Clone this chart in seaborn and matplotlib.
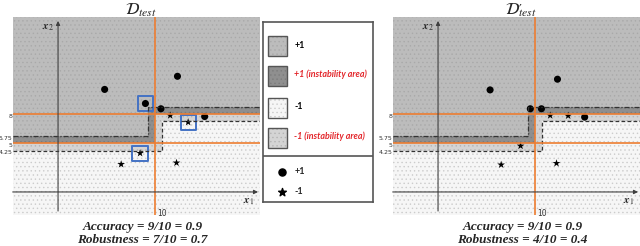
import matplotlib
matplotlib.use('Agg')
import pandas as pd
import matplotlib.pyplot as plt
import seaborn as sns
from matplotlib.patches import Rectangle

sns.set_style('white')
plt.rcParams['font.family'] = ['DejaVu Sans']
plt.rcParams['mathtext.fontset'] = 'stix'
plt.rcParams['hatch.linewidth'] = 0.5

# decision rule and robustness margin
split_x1 = 10
cut_left = 5
cut_right = 8
margin = 0.75
x2_ticks = [8, 5.75, 5, 4.25]
x2_tick_labels = ['8', '5.75', '5', '4.25']

# D_test points
test_x1 = [4.8, 12.3, 9.0, 10.6, 11.55, 13.4, 15.1, 8.45, 6.5, 12.2]
test_x2 = [10.55, 11.9, 9.1, 8.56, 7.87, 7.18, 7.76, 3.99, 2.85, 3.0]
test_label = ['+1', '+1', '+1', '+1', '-1', '-1', '+1', '-1', '-1', '-1']
test_boxed = [False, False, True, False, False, True, False, True, False, False]

# D'_test points (perturbed)
pert_x1 = [5.36, 12.3, 9.5, 10.65, 11.55, 13.4, 15.1, 8.5, 6.5, 12.2]
pert_x2 = [10.5, 11.6, 8.56, 8.56, 7.87, 7.84, 7.7, 4.74, 2.8, 2.95]
pert_label = ['+1', '+1', '+1', '+1', '-1', '-1', '+1', '-1', '-1', '-1']
pert_boxed = [False] * 10

titles = [r'$\mathcal{D}_{test}$', r'$\mathcal{D}_{test}$']
title_primes = ['', '\u2032']
accuracy = ['9/10 = 0.9', '9/10 = 0.9']
robustness = ['7/10 = 0.7', '4/10 = 0.4']

XLIM = (-4.67, 20.8)
YLIM = (-2.37, 18.0)
W, H = 640, 246
ORANGE = '#ED7D31'
C_POS, C_POS_I, C_NEG, C_NEG_I = '#bcbcbc', '#8f8f8f', '#f6f6f6', '#d4d4d4'


def px_axes(fig, x0, y0, x1, y1):
    return fig.add_axes([x0 / W, 1 - y1 / H, (x1 - x0) / W, (y1 - y0) / H])


def draw_panel(ax, df, boxed, title, prime, acc, rob):
    xmin, xmax = XLIM
    ymin, ymax = YLIM
    xs = [xmin, split_x1 - margin, split_x1, split_x1 + margin, xmax]
    bound = [cut_left, cut_left, cut_right, cut_right, cut_right]
    upper = [cut_left + margin] + [cut_right + margin] * 4
    lower = [cut_left - margin] * 3 + [cut_right - margin] * 2

    kw = dict(step='post', lw=0)
    ax.fill_between(xs, ymin, lower, facecolor=C_NEG, edgecolor='#cccccc', hatch='....', **kw)
    ax.fill_between(xs, lower, bound, facecolor=C_NEG_I, edgecolor='#b4b4b4', hatch='....', **kw)
    ax.fill_between(xs, bound, upper, facecolor=C_POS_I, edgecolor='#7c7c7c', hatch='....', **kw)
    ax.fill_between(xs, upper, ymax, facecolor=C_POS, edgecolor='#a9a9a9', hatch='....', **kw)

    ax.step(xs, upper, where='post', color='#333333', lw=0.9, ls=(0, (4, 1.5, 1, 1.5)))
    ax.step(xs, lower, where='post', color='#333333', lw=0.9, ls=(0, (3, 1.8)))

    ax.axvline(split_x1, color=ORANGE, lw=1.2)
    ax.axhline(cut_left, color=ORANGE, lw=1.2)
    ax.axhline(cut_right, color=ORANGE, lw=1.2)

    arrow = dict(arrowstyle='-|>', color='#404040', lw=0.8, mutation_scale=6, shrinkA=0, shrinkB=0)
    ax.annotate('', xy=(0, 17.6), xytext=(0, -1.96), arrowprops=arrow)
    ax.annotate('', xy=(20.6, 0), xytext=(xmin, 0), arrowprops=arrow)

    sns.scatterplot(data=df, x='x1', y='x2', style='label', size='label',
                    markers={'+1': 'o', '-1': '*'}, sizes={'+1': 26, '-1': 34},
                    color='black', edgecolor='none', legend=False, ax=ax)
    bx = df[boxed]
    ax.scatter(bx['x1'], bx['x2'], marker='s', s=120, facecolors='none',
               edgecolors='#4472C4', linewidths=1.4)

    for v, lbl in zip(x2_ticks, x2_tick_labels):
        ax.annotate(lbl, xy=(xmin, v), xytext=(-0.3, -1.5), textcoords='offset points',
                    ha='right', va='center', fontsize=4.5, color='#333333', annotation_clip=False)
    ax.annotate('10', xy=(split_x1, ymin), xytext=(1.5, 1.2), textcoords='offset points',
                ha='left', va='center', fontsize=5.5, color='#333333', annotation_clip=False)

    ax.text(19.6, -1.0, r'$\mathbfit{x}_1$', fontsize=8, ha='center', va='center')
    ax.text(-1.0, 16.9, r'$\mathbfit{x}_2$', fontsize=8, ha='center', va='center')

    ax.text(0.52, 1.012, title, transform=ax.transAxes, ha='center', va='baseline', fontsize=12)
    if prime:
        ax.annotate(prime, xy=(0.52, 1.012), xycoords='axes fraction', xytext=(-2, 1.5),
                    textcoords='offset points', ha='left', va='baseline', fontsize=9,
                    annotation_clip=False)
    serif = dict(family='Liberation Serif', weight='bold', style='italic', fontsize=9.5,
                 ha='center', va='center', transform=ax.transAxes)
    ax.text(0.525, -0.062, 'Accuracy = ' + acc, **serif)
    ax.text(0.525, -0.128, 'Robustness = ' + rob, **serif)

    ax.set_xlim(XLIM)
    ax.set_ylim(YLIM)
    ax.axis('off')


fig = plt.figure(figsize=(6.4, 2.46), dpi=100)

df_test = pd.DataFrame({'x1': test_x1, 'x2': test_x2, 'label': test_label})
df_pert = pd.DataFrame({'x1': pert_x1, 'x2': pert_x2, 'label': pert_label})

ax1 = px_axes(fig, 12.7, 17, 260, 215)
draw_panel(ax1, df_test, test_boxed, titles[0], title_primes[0], accuracy[0], robustness[0])
ax2 = px_axes(fig, 392.7, 17, 640, 215)
draw_panel(ax2, df_pert, pert_boxed, titles[1], title_primes[1], accuracy[1], robustness[1])

# legend panel
lg = px_axes(fig, 263.3, 21.7, 373.3, 201.7)
lg.set_xlim(0, 110)
lg.set_ylim(180, 0)
lg.set_xticks([])
lg.set_yticks([])
for s in lg.spines.values():
    s.set_color('#555555')
    s.set_linewidth(1.2)
swatches = [(C_POS, '#a9a9a9', '+1', 'black', 'normal'),
            (C_POS_I, '#7c7c7c', '+1 (instability area)', '#e3262b', 'italic'),
            (C_NEG, '#cccccc', '-1', 'black', 'normal'),
            (C_NEG_I, '#b4b4b4', '-1 (instability area)', '#e3262b', 'italic')]
row_y = [14.3, 44, 76, 106]
for (fc, hc, txt, tc, st), y in zip(swatches, row_y):
    lg.add_patch(Rectangle((4.7, y), 18.7, 20, facecolor=fc, edgecolor=hc, hatch='....', lw=0))
    lg.add_patch(Rectangle((4.7, y), 18.7, 20, facecolor='none', edgecolor='#555555', lw=1))
    lg.text(31, y + 9, txt, color=tc, fontsize=6.4, weight='bold', style=st,
            family='Lato', va='center', ha='left')
lg.axhline(134, color='#555555', lw=1.2)
lg.scatter([18.4], [150], marker='o', s=26, color='black')
lg.scatter([18.4], [170], marker='*', s=34, color='black')
lg.text(31, 150, '+1', fontsize=6.6, weight='bold', family='Lato', va='center')
lg.text(31, 170, '-1', fontsize=6.6, weight='bold', family='Lato', va='center')

fig.savefig('out.png', dpi=100)
